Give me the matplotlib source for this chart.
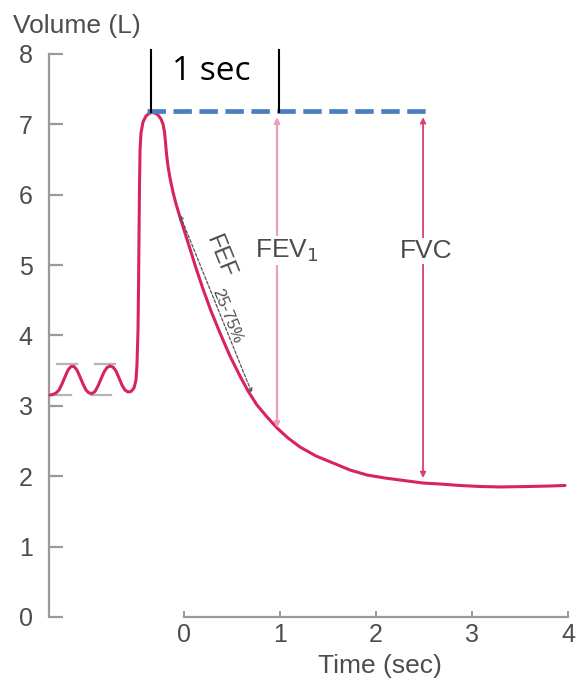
import matplotlib
matplotlib.use("Agg")
import matplotlib.pyplot as plt

# Spirometer trace: time in seconds, volume in litres
tiempo = [-1.396, -1.365, -1.333, -1.302, -1.271, -1.240, -1.208, -1.177, -1.146, -1.115,
          -1.083, -1.052, -1.021, -0.990, -0.958, -0.927, -0.896, -0.865, -0.833, -0.802,
          -0.771, -0.740, -0.708, -0.677, -0.646, -0.615, -0.583, -0.552, -0.521, -0.500,
          -0.490, -0.479, -0.474, -0.469, -0.464, -0.458, -0.448, -0.427, -0.396, -0.365,
          -0.333, -0.302, -0.271, -0.240, -0.219, -0.203, -0.193, -0.182, -0.167, -0.146,
          -0.115, -0.083, -0.042, 0.010, 0.063, 0.125, 0.198, 0.281, 0.375, 0.479,
          0.583, 0.667, 0.760, 0.865, 0.969, 1.083, 1.208, 1.375, 1.552, 1.729,
          1.906, 2.094, 2.250, 2.490, 2.667, 2.875, 3.083, 3.292, 3.604, 3.813,
          3.969]
volumen = [3.153, 3.161, 3.182, 3.224, 3.310, 3.409, 3.509, 3.558, 3.558, 3.509,
           3.409, 3.310, 3.224, 3.182, 3.175, 3.203, 3.281, 3.381, 3.480, 3.544,
           3.565, 3.551, 3.494, 3.395, 3.295, 3.224, 3.196, 3.203, 3.253, 3.366,
           3.580, 4.077, 4.645, 5.355, 6.065, 6.634, 6.875, 7.031, 7.116, 7.152,
           7.166, 7.159, 7.131, 7.074, 7.003, 6.889, 6.747, 6.577, 6.406, 6.236,
           6.037, 5.866, 5.682, 5.455, 5.227, 4.957, 4.659, 4.347, 4.034, 3.707,
           3.423, 3.210, 3.011, 2.841, 2.685, 2.543, 2.415, 2.287, 2.188, 2.088,
           2.017, 1.974, 1.946, 1.903, 1.889, 1.868, 1.854, 1.847, 1.854, 1.861,
           1.868]

ticks_y = [0, 1, 2, 3, 4, 5, 6, 7, 8]
ticks_x = [0, 1, 2, 3, 4]

# tidal breathing band (top / bottom) and its time span
tidal_sup = 3.594
tidal_inf = 3.153
tidal_sup_t = [-1.333, -0.563]
tidal_inf_t = [-1.400, -0.667]

# max volume reference and one-second marks
vol_max = 7.19
vol_max_t = [-0.385, 2.52]
marca_t = [-0.344, 0.99]
marca_v = [7.173, 8.054]

# FEV1 and FVC arrows (time, top, bottom)
fev1 = (0.969, 7.10, 2.685)
fvc = (2.49, 7.10, 1.974)

# FEF 25-75% segment
fef_ini = (-0.042, 5.71)
fef_fin = (0.708, 3.18)

ROJO = "#d7245a"
GRIS = "#4d4d4d"
GRIS_EJE = "#9a9a9a"
FUENTE = "Liberation Sans"

fig = plt.figure(figsize=(5.77, 6.85), dpi=100)
ax = fig.add_axes([0, 0, 1, 1])
ax.set_xlim(-184 / 96, 393 / 96)
ax.set_ylim(-68 / 70.4, 617 / 70.4)
ax.patch.set_alpha(0)

# axes
for lado in ("top", "right"):
    ax.spines[lado].set_visible(False)
ax.spines["left"].set_position(("data", -1.403))
ax.spines["left"].set_bounds(0, 8)
ax.spines["bottom"].set_position(("data", 0))
ax.spines["bottom"].set_bounds(0, 4)
for lado in ("left", "bottom"):
    ax.spines[lado].set_color(GRIS_EJE)
    ax.spines[lado].set_linewidth(1.6)
ax.set_yticks(ticks_y)
ax.set_xticks(ticks_x)
ax.set_yticklabels([str(v) for v in ticks_y], fontname=FUENTE)
ax.set_xticklabels([str(v) for v in ticks_x], fontname=FUENTE)
ax.tick_params(axis="y", direction="in", length=10, width=1.6, color=GRIS_EJE,
               labelsize=18, labelcolor=GRIS, pad=12)
ax.tick_params(axis="x", direction="in", length=4, width=1.4, color=GRIS_EJE,
               labelsize=18, labelcolor=GRIS, pad=4)

ax.text(-1.781, 8.295, "Volume (L)", fontsize=19, color=GRIS, fontname=FUENTE,
        ha="left", va="baseline")
ax.text(2.036, -0.795, "Time (sec)", fontsize=19, color=GRIS, fontname=FUENTE,
        ha="center", va="baseline")

# tidal band
ax.plot(tidal_sup_t, [tidal_sup, tidal_sup], color="#b5b5b5", lw=1.6,
        dashes=(10, 7))
ax.plot(tidal_inf_t, [tidal_inf, tidal_inf], color="#b5b5b5", lw=1.6,
        dashes=(10, 8))

# curve
ax.plot(tiempo, volumen, color=ROJO, lw=2.2, solid_capstyle="round",
        solid_joinstyle="round", zorder=3)

# FEV1 / FVC
for (t, arriba, abajo), col, lw in ((fev1, "#ec9fbb", 1.6), (fvc, "#d9406e", 1.3)):
    ax.annotate("", xy=(t, abajo), xytext=(t, arriba),
                arrowprops=dict(arrowstyle="<|-|>", color=col, lw=lw,
                                mutation_scale=8, shrinkA=0, shrinkB=0))
caja = dict(facecolor="white", edgecolor="none", pad=1)
ax.text(fev1[0] + 0.1, 5.2, "FEV$_1$", fontsize=19, color=GRIS, fontname=FUENTE,
        ha="center", va="center", bbox=caja, zorder=4)
ax.text(fvc[0] + 0.03, 5.2, "FVC", fontsize=19, color=GRIS, fontname=FUENTE,
        ha="center", va="center", bbox=caja, zorder=4)

# FEF 25-75%
ax.annotate("", xy=fef_fin, xytext=fef_ini,
            arrowprops=dict(arrowstyle="<->", color="#555555", lw=0.9,
                            linestyle=(0, (2.5, 1.5)), mutation_scale=7,
                            shrinkA=0, shrinkB=0))
ax.text(0.375, 5.12, "FEF", fontsize=17, color=GRIS, fontname=FUENTE,
        rotation=-68, rotation_mode="anchor", ha="center", va="center")
ax.text(0.445, 4.27, "25-75%", fontsize=12, color=GRIS, fontname=FUENTE,
        rotation=-68, rotation_mode="anchor", ha="center", va="center")

# max volume line and the one-second span
ax.plot(vol_max_t, [vol_max, vol_max], color="#4a7ebf", lw=3.4,
        dashes=(3.9, 1.6), zorder=5)
for t in marca_t:
    ax.plot([t, t], marca_v, color="black", lw=1.5, zorder=6)
ax.text(-0.125, 7.628, "1 sec", fontsize=24, color="black", fontname="Open Sans",
        ha="left", va="baseline")

fig.savefig("out.png", dpi=100)
